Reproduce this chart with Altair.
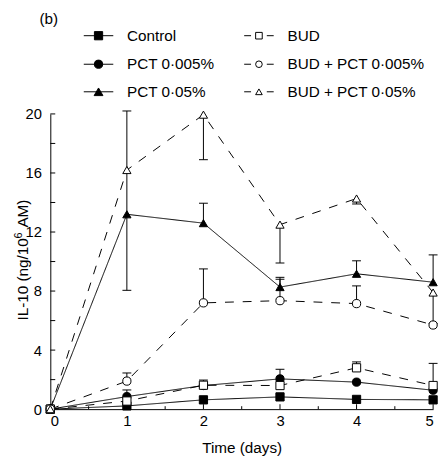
import altair as alt
import pandas as pd

# ---------------- data ----------------
days = [0, 1, 2, 3, 4, 5]
names = ["Control", "PCT 0·005%", "PCT 0·05%", "BUD", "BUD + PCT 0·005%", "BUD + PCT 0·05%"]
control = [0, 0.22, 0.63, 0.83, 0.66, 0.63]
pct_0005 = [0, 0.85, 1.6, 2.05, 1.83, 1.28]
pct_005 = [0, 13.2, 12.6, 8.27, 9.17, 8.6]
bud = [0, 0.55, 1.62, 1.6, 2.8, 1.6]
bud_pct_0005 = [0, 1.9, 7.2, 7.35, 7.15, 5.7]
bud_pct_005 = [0, 16.2, 19.95, 12.5, 14.27, 7.9]

# error bar ends (None = no visible bar)
control_lo = [None] * 6
control_hi = [None] * 6
pct_0005_lo = [None] * 6
pct_0005_hi = [None, 1.3, None, 2.7, None, None]
pct_005_lo = [None, 8.05, None, None, None, None]
pct_005_hi = [None, 20.2, 13.95, 8.93, 10.05, 10.45]
bud_lo = [None] * 6
bud_hi = [None, None, 1.97, None, 3.2, 3.1]
bud_pct_0005_lo = [None] * 6
bud_pct_0005_hi = [None, 2.45, 9.5, 8.8, 8.35, None]
bud_pct_005_lo = [None, None, 16.9, 9.9, 13.9, 5.8]
bud_pct_005_hi = [None] * 6

values = [control, pct_0005, pct_005, bud, bud_pct_0005, bud_pct_005]
los = [control_lo, pct_0005_lo, pct_005_lo, bud_lo, bud_pct_0005_lo, bud_pct_005_lo]
his = [control_hi, pct_0005_hi, pct_005_hi, bud_hi, bud_pct_0005_hi, bud_pct_005_hi]

x_major = [0, 1, 2, 3, 4, 5]
x_minor = [0.5, 1.5, 2.5, 3.5, 4.5]
y_ticks = [0, 2, 4, 6, 8, 10, 12, 14, 16, 18, 20]
y_labels = [0, 4, 8, 12, 16, 20]

# ---------------- styles ----------------
shapes = ["square", "circle", "triangle-up", "square", "circle", "triangle-up"]
fills = ["black", "black", "black", "white", "white", "white"]
dashes = [[1, 0], [1, 0], [1, 0], [9, 9], [9, 9], [9, 9]]
sizes = [70, 70, 80, 65, 65, 85]

FONT = "Liberation Sans"
W, H = 389, 300

rows, err, caps = [], [], []
for n, v, lo, hi in zip(names, values, los, his):
    for d, val, l, h in zip(days, v, lo, hi):
        rows.append({"series": n, "day": d, "value": val})
        if l is not None or h is not None:
            a = l if l is not None else val
            b = h if h is not None else val
            err.append({"series": n, "day": d, "lo": a, "hi": b})
            if l is not None:
                caps.append({"day": d, "y": l})
            if h is not None:
                caps.append({"day": d, "y": h})
df = pd.DataFrame(rows)
df_err = pd.DataFrame(err)
df_caps = pd.DataFrame(caps)

xs = alt.Scale(domain=[0, 5], nice=False, zero=False)
ys = alt.Scale(domain=[0, 20], nice=False)

base = alt.Chart(df)
lines = base.mark_line(color="black", strokeWidth=1).encode(
    x=alt.X("day:Q", scale=xs,
            axis=alt.Axis(values=x_major, format="d", title="Time (days)", ticks=False,
                          tickSize=0, labelPadding=5, titlePadding=12, grid=False)),
    y=alt.Y("value:Q", scale=ys,
            axis=alt.Axis(values=y_labels, format="d", title=None, ticks=False,
                          tickSize=0, labelPadding=9, grid=False)),
    detail="series:N",
    strokeDash=alt.StrokeDash("series:N", scale=alt.Scale(domain=names, range=dashes), legend=None),
)

errbars = alt.Chart(df_err).mark_rule(color="black", strokeWidth=1).encode(
    x="day:Q", y="lo:Q", y2="hi:Q")
capmarks = alt.Chart(df_caps).mark_rule(color="black", strokeWidth=1, xOffset=-4.5, x2Offset=4.5).encode(
    x="day:Q", x2="day:Q", y="y:Q")

points = base.mark_point(filled=False, stroke="black", strokeWidth=1, opacity=1).encode(
    x="day:Q", y="value:Q",
    shape=alt.Shape("series:N", scale=alt.Scale(domain=names, range=shapes), legend=None),
    fill=alt.Fill("series:N", scale=alt.Scale(domain=names, range=fills), legend=None),
    size=alt.Size("series:N", scale=alt.Scale(domain=names, range=sizes), legend=None),
)

# inward axis ticks
yt = alt.Chart(pd.DataFrame({"v": y_ticks})).mark_rule(color="black", strokeWidth=1).encode(
    y="v:Q", x=alt.value(0), x2=alt.value(5))
xt = alt.Chart(pd.DataFrame({"v": x_major})).mark_rule(color="black", strokeWidth=1).encode(
    x="v:Q", y=alt.value(H), y2=alt.value(H - 5))
xtm = alt.Chart(pd.DataFrame({"v": x_minor})).mark_rule(color="black", strokeWidth=1).encode(
    x="v:Q", y=alt.value(H), y2=alt.value(H - 3))

layers = [yt, xt, xtm, lines, errbars, capmarks, points]

# y-axis title with a real superscript
one = pd.DataFrame({"a": [0]})
def txt(s, x, y, size, angle=0, align="left", baseline="alphabetic"):
    return alt.Chart(one).mark_text(text=s, font=FONT, fontSize=size, angle=angle, align=align,
                                    baseline=baseline, color="black").encode(
        x=alt.value(x), y=alt.value(y))

layers += [
    txt("IL-10 (ng/10", -22.5, 210, 15.5, angle=270),
    txt("6", -29, 126.5, 11, angle=270),
    txt("AM)", -22.5, 115.5, 15.5, angle=270),
    txt("(b)", -11, -103, 15.5, align="left", baseline="top"),
]

# legend
rows_y = [-79.5, -50.5, -22.5]
for i, n in enumerate(names):
    col = i // 3
    ry = rows_y[i % 3]
    if col == 0:
        layers.append(alt.Chart(one).mark_rule(color="black", strokeWidth=1).encode(
            x=alt.value(34), x2=alt.value(64), y=alt.value(ry)))
        mx, tx = 49, 78
    else:
        for a, b in [(197, 204), (220, 227)]:
            layers.append(alt.Chart(one).mark_rule(color="black", strokeWidth=1).encode(
                x=alt.value(a), x2=alt.value(b), y=alt.value(ry)))
        mx, tx = 212, 241
    layers.append(alt.Chart(one).mark_point(shape=shapes[i], fill=fills[i], stroke="black",
                                            strokeWidth=1, opacity=1, size=sizes[i] if col == 0 else 45).encode(
        x=alt.value(mx), y=alt.value(ry)))
    layers.append(txt(n, tx, ry, 15.5, baseline="middle"))

chart = alt.layer(*layers).properties(
    width=W, height=H,
    autosize=alt.AutoSizeParams(type="none"),
    padding={"left": 43, "top": 104, "right": 7, "bottom": 46},
).configure_view(stroke=None).configure_axis(
    domainColor="black", domainWidth=1, labelColor="black", labelFont=FONT, labelFontSize=15,
    titleFont=FONT, titleFontSize=15.5, titleFontWeight="normal", titleColor="black",
)

chart.save("out.html", embed_options={"renderer": "svg", "actions": False})
